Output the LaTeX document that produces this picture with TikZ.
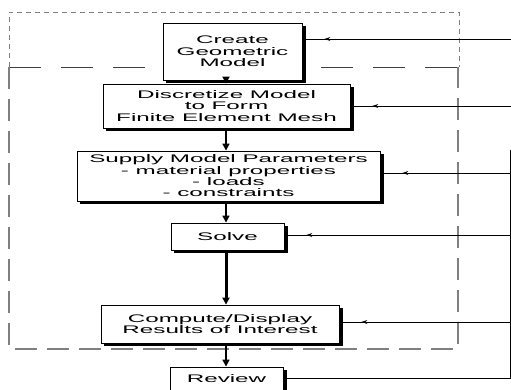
\documentclass[tikz,border=0pt]{standalone}
\usepackage{fontspec}
\setmainfont[FakeStretch=2.2]{Liberation Sans}
\usetikzlibrary{arrows.meta,decorations.markings,calc,backgrounds}
\begin{document}
\begin{tikzpicture}[x=1pt,y=-1pt,
  flowbox/.style={draw=black,line width=0.8pt,fill=white,align=center,inner sep=0pt,
    font=\fontsize{11}{11.3}\selectfont},
  boxshadow/.style={fill=black},
  downarr/.style={line width=1.6pt,-{Triangle[length=7pt,width=7pt]}},
  fb/.style={line width=0.9pt},
  fbarr/.style={fb,postaction={decorate},decoration={markings,
    mark=at position -22pt with {\arrow{Stealth[length=6pt,width=4pt]}}}},
  finedash/.style={gray,line width=0.9pt,dash pattern=on 5pt off 4pt},
  longdash/.style={gray,line width=1.1pt,dash pattern=on 22pt off 10pt},
  sepdash/.style={black!75,line width=0.7pt,dash pattern=on 32pt off 20pt},
]
\useasboundingbox (0,0) rectangle (511,390);
\clip (0,0) rectangle (511,390);

% dashed regions
\draw[finedash] (9,67) -- (9,12) -- (459,12) -- (459,67);
\draw[sepdash] (9,67) -- (459,67);
\draw[longdash] (9,67) -- (9,349) -- (458,349) -- (458,67);

% boxes
\node[flowbox,minimum width=139pt,minimum height=57pt] (c1) at (232.5,51.5) {Create\\Geometric\\Model};
\node[flowbox,minimum width=247pt,minimum height=44pt] (c2) at (226.5,106) {Discretize Model\\to Form\\Finite Element Mesh};
\node[flowbox,minimum width=303pt,minimum height=50pt] (c3) at (228.5,176) {Supply Model Parameters\\- material properties\\- loads\\- constraints};
\node[flowbox,minimum width=113pt,minimum height=27pt] (c4) at (227.5,236.5) {Solve};
\node[flowbox,minimum width=238pt,minimum height=38pt] (c5) at (220,324) {Compute/Display\\Results of Interest};
\node[flowbox,minimum width=113pt,minimum height=24pt] (c6) at (226.5,379) {Review};

% shadows
\begin{scope}[on background layer]
\foreach \n in {c1,c2,c3,c4,c5,c6}
  \fill[boxshadow] ($(\n.south west)+(3,2.5)$) rectangle ($(\n.north east)+(3.2,3)$);
\end{scope}

% vertical flow
\coordinate (ax) at (226,0);
\draw[downarr] (c1.south -| ax) -- (c2.north -| ax);
\draw[downarr] (c2.south -| ax) -- (c3.north -| ax);
\draw[downarr] (c3.south -| ax) -- (c4.north -| ax);
\draw[downarr,line width=3pt] (c4.south -| ax) -- (c5.north -| ax);
\draw[downarr] (c5.south -| ax) -- (c6.north -| ax);

% feedback lines
\coordinate (r1) at (512,39);
\coordinate (r2) at (512,106);
\coordinate (top) at (510.5,150);
\coordinate (r3) at (510.5,173);
\coordinate (r4) at (510.5,235);
\coordinate (r5) at (510.5,322);
\coordinate (r6) at (510.5,378);
\draw[fbarr] (r1) -- (r1 -| c1.east);
\draw[fbarr] (r2) -- (r2 -| c2.east);
\draw[fbarr] (r3) -- (r3 -| c3.east);
\draw[fbarr] (r4) -- (r4 -| c4.east);
\draw[fbarr] (r5) -- (r5 -| c5.east);
\draw[fb] (r6 -| c6.east) -- (r6) -- (top);
\end{tikzpicture}
\end{document}
